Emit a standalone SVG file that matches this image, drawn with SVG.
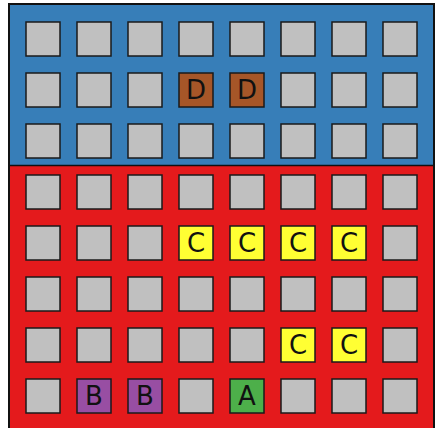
<svg xmlns="http://www.w3.org/2000/svg" width="436" height="428" viewBox="0 0 436 428">
<style>
.cell{fill:#c0c0c0;stroke:#1a1a1a;stroke-width:1.5}
.D{fill:#a65628}.C{fill:#ffff33}.B{fill:#984ea3}.A{fill:#4daf4a}
.lbl{font-family:"DejaVu Sans",sans-serif;font-size:26px;fill:#111;text-anchor:middle}
</style>
<rect width="436" height="428" fill="#ffffff"/>
<g id="regions">
<rect x="9" y="4" width="425" height="162" fill="#377eb8"/>
<rect x="9" y="166" width="425" height="266" fill="#e41a1c"/>
<line x1="9" y1="165.5" x2="434" y2="165.5" stroke="#111" stroke-width="1.5"/>
<rect x="9" y="4" width="425" height="428" fill="none" stroke="#111" stroke-width="2"/>
</g>
<g id="connectors"></g>
<g id="cells">
<rect class="cell" x="26" y="22" width="34" height="34"/><rect class="cell" x="77" y="22" width="34" height="34"/><rect class="cell" x="128" y="22" width="34" height="34"/><rect class="cell" x="179" y="22" width="34" height="34"/><rect class="cell" x="230" y="22" width="34" height="34"/><rect class="cell" x="281" y="22" width="34" height="34"/><rect class="cell" x="332" y="22" width="34" height="34"/><rect class="cell" x="383" y="22" width="34" height="34"/>
<rect class="cell" x="26" y="73" width="34" height="34"/><rect class="cell" x="77" y="73" width="34" height="34"/><rect class="cell" x="128" y="73" width="34" height="34"/><rect class="cell" x="281" y="73" width="34" height="34"/><rect class="cell" x="332" y="73" width="34" height="34"/><rect class="cell" x="383" y="73" width="34" height="34"/>
<rect class="cell" x="26" y="124" width="34" height="34"/><rect class="cell" x="77" y="124" width="34" height="34"/><rect class="cell" x="128" y="124" width="34" height="34"/><rect class="cell" x="179" y="124" width="34" height="34"/><rect class="cell" x="230" y="124" width="34" height="34"/><rect class="cell" x="281" y="124" width="34" height="34"/><rect class="cell" x="332" y="124" width="34" height="34"/><rect class="cell" x="383" y="124" width="34" height="34"/>
<rect class="cell" x="26" y="175" width="34" height="34"/><rect class="cell" x="77" y="175" width="34" height="34"/><rect class="cell" x="128" y="175" width="34" height="34"/><rect class="cell" x="179" y="175" width="34" height="34"/><rect class="cell" x="230" y="175" width="34" height="34"/><rect class="cell" x="281" y="175" width="34" height="34"/><rect class="cell" x="332" y="175" width="34" height="34"/><rect class="cell" x="383" y="175" width="34" height="34"/>
<rect class="cell" x="26" y="226" width="34" height="34"/><rect class="cell" x="77" y="226" width="34" height="34"/><rect class="cell" x="128" y="226" width="34" height="34"/><rect class="cell" x="383" y="226" width="34" height="34"/>
<rect class="cell" x="26" y="277" width="34" height="34"/><rect class="cell" x="77" y="277" width="34" height="34"/><rect class="cell" x="128" y="277" width="34" height="34"/><rect class="cell" x="179" y="277" width="34" height="34"/><rect class="cell" x="230" y="277" width="34" height="34"/><rect class="cell" x="281" y="277" width="34" height="34"/><rect class="cell" x="332" y="277" width="34" height="34"/><rect class="cell" x="383" y="277" width="34" height="34"/>
<rect class="cell" x="26" y="328" width="34" height="34"/><rect class="cell" x="77" y="328" width="34" height="34"/><rect class="cell" x="128" y="328" width="34" height="34"/><rect class="cell" x="179" y="328" width="34" height="34"/><rect class="cell" x="230" y="328" width="34" height="34"/><rect class="cell" x="383" y="328" width="34" height="34"/>
<rect class="cell" x="26" y="379" width="34" height="34"/><rect class="cell" x="179" y="379" width="34" height="34"/><rect class="cell" x="281" y="379" width="34" height="34"/><rect class="cell" x="332" y="379" width="34" height="34"/><rect class="cell" x="383" y="379" width="34" height="34"/>
</g>
<g id="node-D1"><rect class="cell D" x="179" y="73" width="34" height="34"/><text class="lbl" x="196" y="99">D</text></g>
<g id="node-D2"><rect class="cell D" x="230" y="73" width="34" height="34"/><text class="lbl" x="247" y="99">D</text></g>
<g id="node-C1"><rect class="cell C" x="179" y="226" width="34" height="34"/><text class="lbl" x="196" y="252">C</text></g>
<g id="node-C2"><rect class="cell C" x="230" y="226" width="34" height="34"/><text class="lbl" x="247" y="252">C</text></g>
<g id="node-C3"><rect class="cell C" x="281" y="226" width="34" height="34"/><text class="lbl" x="298" y="252">C</text></g>
<g id="node-C4"><rect class="cell C" x="332" y="226" width="34" height="34"/><text class="lbl" x="349" y="252">C</text></g>
<g id="node-C5"><rect class="cell C" x="281" y="328" width="34" height="34"/><text class="lbl" x="298" y="354">C</text></g>
<g id="node-C6"><rect class="cell C" x="332" y="328" width="34" height="34"/><text class="lbl" x="349" y="354">C</text></g>
<g id="node-B1"><rect class="cell B" x="77" y="379" width="34" height="34"/><text class="lbl" x="94" y="405">B</text></g>
<g id="node-B2"><rect class="cell B" x="128" y="379" width="34" height="34"/><text class="lbl" x="145" y="405">B</text></g>
<g id="node-A"><rect class="cell A" x="230" y="379" width="34" height="34"/><text class="lbl" x="247" y="405">A</text></g>
</svg>
